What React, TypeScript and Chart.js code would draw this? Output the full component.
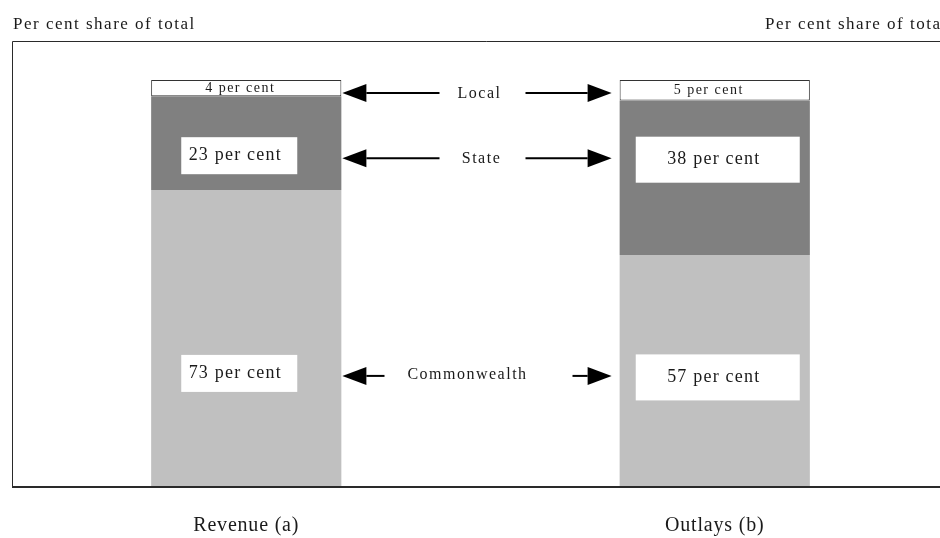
import React, { useEffect, useRef } from "react";
import { Chart, registerables } from "chart.js";

Chart.register(...registerables);

// ---- data ----
const categories = ["Revenue (a)", "Outlays (b)"];
const commonwealthShare = [73, 57];
const stateShare = [23, 38];
const localShare = [4, 5];
const seriesNames = ["Commonwealth", "State", "Local"];
const axisTitle = "Per cent share of total";
const unitSuffix = " per cent";

// ---- layout / style ----
const CANVAS_W = 960;
const CANVAS_H = 538;
const Y_MAX = 109.6;
const FONT = "'Liberation Serif', 'Times New Roman', serif";
const TEXT_COLOR = "#1a1a1a";
const COLORS = ["#c0c0c0", "#808080", "#ffffff"];
// vertical level (in axis units) of each series' arrow row
const ROW_LEVELS = [27.3, 80.8, 96.8];
// distance of arrow tails from the gap's centre: [left, right]
const ARROW_TAILS = [
  [96, 92],
  [41, 45],
  [41, 45],
];
// nudges for the series names: [dx, dy]
const NAME_NUDGE = [
  [-13, -2],
  [1, 0],
  [-1, 0],
];
// white value boxes, one spec per category
const BOX_W = [116, 164];
const BOX_H = [37, 46];
const BOX_DX = [-7, 3];
const BOX_DY = [-2.5, 1.5];

function drawArrow(ctx: CanvasRenderingContext2D, fromX: number, tipX: number, y: number) {
  const dir = Math.sign(tipX - fromX);
  const head = 24;
  const half = 9;
  ctx.lineWidth = 2;
  ctx.beginPath();
  ctx.moveTo(fromX, y);
  ctx.lineTo(tipX - dir * head, y);
  ctx.stroke();
  ctx.beginPath();
  ctx.moveTo(tipX, y);
  ctx.lineTo(tipX - dir * head, y - half);
  ctx.lineTo(tipX - dir * head, y + half);
  ctx.closePath();
  ctx.fill();
}

const overlayPlugin = {
  id: "shareOverlay",
  afterDatasetsDraw(chart: any) {
    const ctx: CanvasRenderingContext2D = chart.ctx;
    const { left, top, bottom } = chart.chartArea;
    const ys = chart.scales.y;
    ctx.save();

    // frame: left, top and base lines
    ctx.strokeStyle = "#2a2a2a";
    ctx.lineWidth = 1;
    ctx.beginPath();
    ctx.moveTo(left + 0.5, bottom);
    ctx.lineTo(left + 0.5, top + 0.5);
    ctx.lineTo(chart.width, top + 0.5);
    ctx.stroke();
    ctx.lineWidth = 2;
    ctx.beginPath();
    ctx.moveTo(left, bottom);
    ctx.lineTo(chart.width, bottom);
    ctx.stroke();

    ctx.fillStyle = TEXT_COLOR;

    // axis titles
    (ctx as any).letterSpacing = "1.5px";
    ctx.font = `17px ${FONT}`;
    ctx.textAlign = "left";
    ctx.textBaseline = "alphabetic";
    ctx.fillText(axisTitle, 13, 29);
    ctx.fillText(axisTitle, 765, 29);

    const metas = [0, 1, 2].map((i) => chart.getDatasetMeta(i));
    const datasets = chart.data.datasets;

    // category labels
    ctx.font = `20px ${FONT}`;
    ctx.textAlign = "center";
    (ctx as any).letterSpacing = "0.8px";
    categories.forEach((c, j) => {
      ctx.fillText(c, metas[0].data[j].x, 531);
    });

    // value labels in white boxes (Commonwealth and State)
    (ctx as any).letterSpacing = "1.2px";
    ctx.textBaseline = "middle";
    for (let s = 0; s < 2; s++) {
      const rowY = ys.getPixelForValue(ROW_LEVELS[s]);
      metas[s].data.forEach((bar: any, j: number) => {
        const cx = bar.x + BOX_DX[j];
        const cy = rowY + BOX_DY[j];
        ctx.fillStyle = "#ffffff";
        ctx.fillRect(cx - BOX_W[j] / 2, cy - BOX_H[j] / 2, BOX_W[j], BOX_H[j]);
        ctx.fillStyle = TEXT_COLOR;
        ctx.font = `18px ${FONT}`;
        ctx.fillText(`${datasets[s].data[j]}${unitSuffix}`, cx - 4, cy);
      });
    }

    // Local values written inside their thin segment
    (ctx as any).letterSpacing = "1.5px";
    ctx.font = `14px ${FONT}`;
    metas[2].data.forEach((bar: any, j: number) => {
      ctx.fillText(`${datasets[2].data[j]}${unitSuffix}`, bar.x - 6, (bar.y + bar.base) / 2);
    });

    // series names with arrows pointing to both bars
    const rev = metas[0].data[0];
    const out = metas[0].data[1];
    const revRight = rev.x + rev.width / 2;
    const outLeft = out.x - out.width / 2;
    const mid = (revRight + outLeft) / 2;
    ctx.strokeStyle = "#000";
    ctx.fillStyle = "#000";
    (ctx as any).letterSpacing = "1.5px";
    seriesNames.forEach((name, s) => {
      const y = ys.getPixelForValue(ROW_LEVELS[s]);
      drawArrow(ctx, mid - ARROW_TAILS[s][0], revRight + 1, y);
      drawArrow(ctx, mid + ARROW_TAILS[s][1], outLeft - 8, y);
      ctx.fillStyle = TEXT_COLOR;
      ctx.font = `16px ${FONT}`;
      ctx.fillText(name, mid + NAME_NUDGE[s][0], y + 1 + NAME_NUDGE[s][1]);
      ctx.fillStyle = "#000";
    });

    ctx.restore();
  },
};

export default function App() {
  const ref = useRef<HTMLCanvasElement | null>(null);

  useEffect(() => {
    if (!ref.current) return;
    const chart = new Chart(ref.current, {
      type: "bar",
      data: {
        labels: categories,
        datasets: [
          {
            label: seriesNames[0],
            data: commonwealthShare,
            backgroundColor: COLORS[0],
            borderWidth: 0,
          },
          {
            label: seriesNames[1],
            data: stateShare,
            backgroundColor: COLORS[1],
            borderWidth: 0,
          },
          {
            label: seriesNames[2],
            data: localShare,
            backgroundColor: COLORS[2],
            borderColor: "#333333",
            borderWidth: 1,
            borderSkipped: false,
          },
        ],
      },
      options: {
        responsive: false,
        animation: false,
        devicePixelRatio: 1,
        categoryPercentage: 1,
        barPercentage: 0.406,
        layout: { padding: { left: 12, right: 11, top: 41, bottom: 51 } },
        plugins: {
          legend: { display: false },
          tooltip: { enabled: false },
        },
        scales: {
          x: { stacked: true, display: false },
          y: { stacked: true, display: false, min: 0, max: Y_MAX },
        },
      },
      plugins: [overlayPlugin],
    });
    return () => chart.destroy();
  }, []);

  return (
    <div
      style={{
        position: "absolute",
        left: 0,
        top: 0,
        width: 940,
        height: 538,
        overflow: "hidden",
        background: "#ffffff",
      }}
    >
      <canvas ref={ref} width={CANVAS_W} height={CANVAS_H} style={{ width: CANVAS_W, height: CANVAS_H }} />
    </div>
  );
}
